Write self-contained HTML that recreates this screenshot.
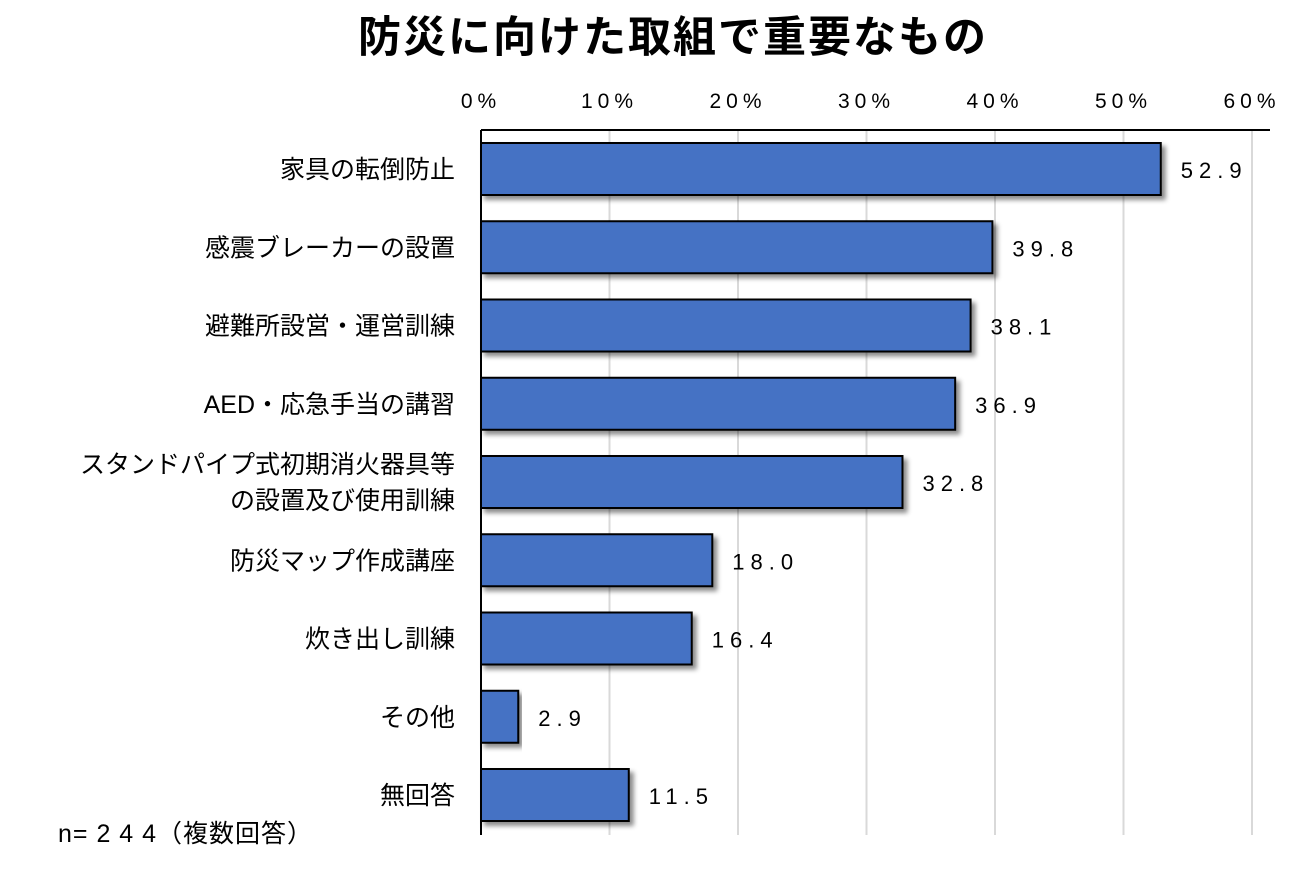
<!DOCTYPE html>
<html><head><meta charset="utf-8">
<style>
html,body{margin:0;padding:0;background:#fff;}
body{width:1294px;height:876px;overflow:hidden;font-family:"Liberation Sans","Noto Sans CJK JP",sans-serif;}
svg text{font-family:"Liberation Sans","Noto Sans CJK JP",sans-serif;fill:#000;}
</style></head>
<body>
<svg id="chart" width="1294" height="876" xmlns="http://www.w3.org/2000/svg">
<defs>
<filter id="sh" x="-5%" y="-20%" width="115%" height="160%">
<feDropShadow dx="4" dy="4" stdDeviation="2.5" flood-color="#000" flood-opacity="0.45"/>
</filter>
</defs>
<text x="673" y="52" font-size="43" font-weight="bold" text-anchor="middle" letter-spacing="2">防災に向けた取組で重要なもの</text>
<g id="grid"></g>
<g id="bars"></g>
<text x="58" y="842" font-size="25" letter-spacing="1">n= 2 4 4（複数回答）</text>
</svg>
<script>
const categories = [["家具の転倒防止"],["感震ブレーカーの設置"],["避難所設営・運営訓練"],["AED・応急手当の講習"],["スタンドパイプ式初期消火器具等","の設置及び使用訓練"],["防災マップ作成講座"],["炊き出し訓練"],["その他"],["無回答"]];
const values = [52.9,39.8,38.1,36.9,32.8,18.0,16.4,2.9,11.5];
const valueLabels = ["52.9","39.8","38.1","36.9","32.8","18.0","16.4","2.9","11.5"];
const ticks = [0,10,20,30,40,50,60];
const tickLabels = ["0%","10%","20%","30%","40%","50%","60%"];

const NS="http://www.w3.org/2000/svg";
const x0=481, x1=1252, topY=130, bottomY=835, rowTop=130, rowH=78.25, barH=52;
const xs=v=>x0+(v/60)*(x1-x0);
const yc=i=>rowTop+39+i*rowH;
const grid=document.getElementById('grid'), bars=document.getElementById('bars');
function mk(tag,attrs,parent){const e=document.createElementNS(NS,tag);for(const k in attrs)e.setAttribute(k,attrs[k]);parent.appendChild(e);return e;}

ticks.forEach((t,i)=>{
  if(t>0){const g=mk('line',{x1:xs(t),x2:xs(t),y1:topY,y2:bottomY,stroke:'#d9d9d9','stroke-width':2},grid);
  
  }
  const tl=mk('text',{x:xs(t),y:108,'font-size':21,'text-anchor':'middle','letter-spacing':5},grid);
  tl.textContent=tickLabels[i];
  
  
});
const ax=mk('line',{x1:x0,x2:1270,y1:topY,y2:topY,stroke:'#000','stroke-width':2},grid);


const ay=mk('line',{x1:x0,x2:x0,y1:topY,y2:bottomY,stroke:'#000','stroke-width':2},grid);



values.forEach((v,i)=>{
  const c=yc(i);
  const r=mk('rect',{x:x0,y:c-barH/2,width:xs(v)-x0,height:barH,fill:'#4472c4',stroke:'#000','stroke-width':2,filter:'url(#sh)'},bars);
  
  
  const vl=mk('text',{x:xs(v)+20,y:c+9,'font-size':22,'letter-spacing':6},bars);
  vl.textContent=valueLabels[i];
  
  
  const lines=categories[i];
  lines.forEach((ln,j)=>{
    const yy=c+9+(j-(lines.length-1)/2)*36;
    const cl=mk('text',{x:455,y:yy,'font-size':25,'text-anchor':'end'},bars);
    cl.textContent=ln;
    
    
  });
});
</script>
</body></html>
